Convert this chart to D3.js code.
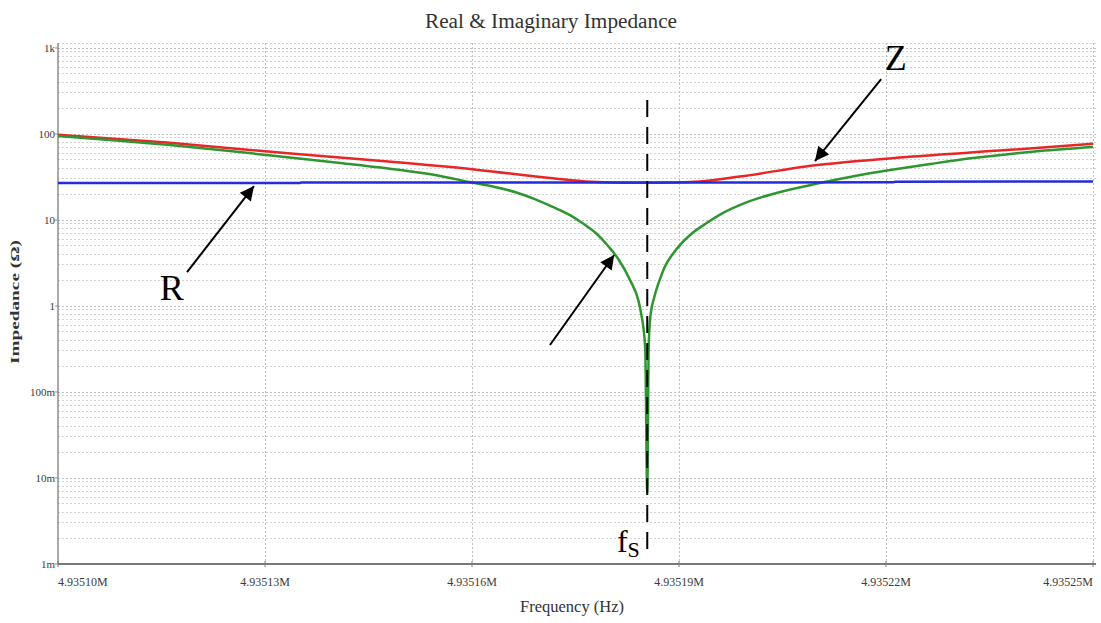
<!DOCTYPE html>
<html>
<head>
<meta charset="utf-8">
<style>
body{
  margin: 0;
  background-color: white;
}
svg{
  display: block;
  font-family: "Liberation Serif", "DejaVu Serif", serif;
}
.grid line{
  stroke: #d2d2d2;
  stroke-width: 1px;
  stroke-dasharray: 2,2;
  shape-rendering: crispEdges;
}
.grid line.major{
  stroke: #c0c0c0;
}
.tick-label{
  font-size: 11px;
  fill: #3a3a3a;
}
.trace{
  fill: none;
  stroke-width: 2.5px;
  stroke-linejoin: round;
}
.annot{
  fill: black;
}
</style>
</head>
<body>
<script src="https://cdn.jsdelivr.net/npm/d3@7/dist/d3.min.js"></script>
<script>
  var WIDTH = 1101;
  var HEIGHT = 623;

  // axis ticks
  var xTicks = [4935100, 4935130, 4935160, 4935190, 4935220, 4935250];
  var xTickLabels = ["4.93510M", "4.93513M", "4.93516M", "4.93519M", "4.93522M", "4.93525M"];
  var yTicks = [1e-3, 1e-2, 1e-1, 1, 10, 100, 1000];
  var yTickLabels = ["1m", "10m", "100m", "1", "10", "100", "1k"];

  // |Z| (red)
  var freqZ = [4935100.0, 4935116.2, 4935132.9, 4935149.6, 4935160.6, 4935171.7, 4935177.2, 4935181.7,
               4935185.4, 4935189.1, 4935193.0, 4935198.8, 4935209.4, 4935223.0, 4935237.5, 4935250.0];
  var valZ  = [98, 79, 60, 46.5, 38.5, 30.5, 27.8, 27.2,
               27.1, 27.3, 28.0, 32, 43, 54, 65, 77];

  // |X| (green)
  var freqX = [4935100.0, 4935107.5, 4935116.2, 4935124.9, 4935132.9, 4935140.9, 4935149.6, 4935155.4,
               4935159.6, 4935163.3, 4935166.2, 4935169.1, 4935171.7, 4935174.2, 4935176.2, 4935178.1,
               4935179.6, 4935181.2, 4935182.9, 4935184.1, 4935184.5, 4935185.1, 4935185.4, 4935185.6,
               4935185.8, 4935186.5, 4935187.2, 4935188.0, 4935189.1, 4935191.6, 4935193.8, 4935196.4,
               4935199.6, 4935203.6, 4935210.4, 4935215.5, 4935220.6, 4935226.4, 4935232.6, 4935238.0,
               4935242.3, 4935250.0];
  var valX  = [94.8, 85.2, 74.5, 63.4, 54.0, 46.0, 38.1, 32.5,
               27.7, 24.2, 21.2, 17.5, 14.2, 11.4, 8.98, 6.87,
               5.12, 3.52, 2.01, 1.17, 0.83, 0.33, 0.0067, 0.31,
               0.69, 1.34, 2.01, 2.92, 4.02, 6.69, 8.98, 12.1,
               15.8, 20.1, 26.9, 32.5, 38.1, 44.8, 52.6, 58.5,
               63.4, 70.6];

  // R (blue)
  var freqR = [4935100.0, 4935135.0, 4935135.3, 4935221.0, 4935221.3, 4935250.0];
  var valR  = [26.9, 26.9, 27.3, 27.4, 27.9, 28.0];

  var fSeries = 4935185.4;

  var xScale = d3.scaleLinear()
    .domain([4935100, 4935250])
    .range([58, 1093]);

  var yScale = d3.scaleLog()
    .domain([1e-3, 1e3])
    .range([564, 48]);

  var PLOT_LEFT = 58, PLOT_RIGHT = 1096, PLOT_TOP = 43, PLOT_BOTTOM = 564;

  var svg = d3.select("body").append("svg")
    .attr("width", WIDTH)
    .attr("height", HEIGHT);

  var defs = svg.append("defs");
  defs.append("clipPath").attr("id", "plot-clip")
    .append("rect")
      .attr("x", PLOT_LEFT).attr("y", PLOT_TOP)
      .attr("width", PLOT_RIGHT - PLOT_LEFT).attr("height", PLOT_BOTTOM - PLOT_TOP);

  defs.append("marker")
    .attr("id", "arrowhead")
    .attr("viewBox", "0 0 10 10")
    .attr("refX", 10).attr("refY", 5)
    .attr("markerWidth", 9).attr("markerHeight", 7)
    .attr("markerUnits", "strokeWidth")
    .attr("orient", "auto")
    .append("path")
      .attr("d", "M0,0 L10,5 L0,10 z")
      .attr("fill", "black");

  var gridArea = svg.append("g").attr("class", "grid");
  var axisArea = svg.append("g").attr("class", "axes");
  var plotArea = svg.append("g").attr("class", "plotArea").attr("clip-path", "url(#plot-clip)");
  var annotArea = svg.append("g").attr("class", "annotations");

  initGrid();
  initAxes();
  renderTraces();
  renderAnnotations();

  function initGrid(){
    var hLines = [];
    for (var k = -3; k < 3; k++){
      for (var m = 1; m <= 9; m++){
        hLines.push({v: m * Math.pow(10, k), major: m == 1});
      }
    }
    hLines.push({v: 1000, major: true});

    gridArea.selectAll("line.h")
      .data(hLines)
      .enter()
      .append("line")
        .attr("class", (d) => d.major ? "h major" : "h")
        .attr("x1", PLOT_LEFT).attr("x2", PLOT_RIGHT)
        .attr("y1", (d) => yScale(d.v)).attr("y2", (d) => yScale(d.v));

    gridArea.append("line")
      .attr("x1", PLOT_LEFT).attr("x2", PLOT_RIGHT)
      .attr("y1", PLOT_TOP).attr("y2", PLOT_TOP);

    gridArea.selectAll("line.v")
      .data(xTicks.slice(1))
      .enter()
      .append("line")
        .attr("class", "v major")
        .attr("x1", (d) => xScale(d)).attr("x2", (d) => xScale(d))
        .attr("y1", PLOT_TOP).attr("y2", PLOT_BOTTOM);
  }

  function initAxes(){
    // left axis
    axisArea.append("line")
      .attr("x1", PLOT_LEFT).attr("x2", PLOT_LEFT)
      .attr("y1", PLOT_TOP).attr("y2", PLOT_BOTTOM)
      .attr("stroke", "#8c8c8c").attr("stroke-width", 1.5);

    // bottom axis
    axisArea.append("line")
      .attr("x1", PLOT_LEFT).attr("x2", PLOT_RIGHT)
      .attr("y1", PLOT_BOTTOM).attr("y2", PLOT_BOTTOM)
      .attr("stroke", "#7a7a7a").attr("stroke-width", 2);

    axisArea.selectAll("line.ytick")
      .data(yTicks)
      .enter()
      .append("line")
        .attr("class", "ytick")
        .attr("x1", PLOT_LEFT - 3).attr("x2", PLOT_LEFT)
        .attr("y1", (d) => yScale(d)).attr("y2", (d) => yScale(d))
        .attr("stroke", "#8c8c8c");

    axisArea.selectAll("text.ylab")
      .data(yTicks)
      .enter()
      .append("text")
        .attr("class", "tick-label ylab")
        .attr("x", PLOT_LEFT - 3)
        .attr("y", (d) => yScale(d) + 4)
        .attr("text-anchor", "end")
        .text((d, i) => yTickLabels[i]);

    axisArea.selectAll("line.xtick")
      .data(xTicks)
      .enter()
      .append("line")
        .attr("class", "xtick")
        .attr("x1", (d) => xScale(d)).attr("x2", (d) => xScale(d))
        .attr("y1", PLOT_BOTTOM - 3).attr("y2", PLOT_BOTTOM + 3)
        .attr("stroke", "#7a7a7a");

    axisArea.selectAll("text.xlab")
      .data(xTicks)
      .enter()
      .append("text")
        .attr("class", "tick-label xlab")
        .attr("x", (d) => xScale(d))
        .attr("y", PLOT_BOTTOM + 22)
        .attr("text-anchor", (d, i) => i == 0 ? "start" : (i == xTicks.length - 1 ? "end" : "middle"))
        .style("font-size", "12px")
        .text((d, i) => xTickLabels[i]);

    svg.append("text")
      .attr("x", 551).attr("y", 28)
      .attr("text-anchor", "middle")
      .attr("textLength", 252)
      .attr("lengthAdjust", "spacingAndGlyphs")
      .style("font-size", "20px")
      .style("fill", "#333")
      .text("Real & Imaginary Impedance");

    svg.append("text")
      .attr("x", 572).attr("y", 612)
      .attr("text-anchor", "middle")
      .attr("textLength", 104)
      .attr("lengthAdjust", "spacingAndGlyphs")
      .style("font-size", "17px")
      .style("fill", "#333")
      .text("Frequency (Hz)");

    svg.append("text")
      .attr("transform", "translate(19,302) rotate(-90)")
      .attr("text-anchor", "middle")
      .attr("textLength", 124)
      .attr("lengthAdjust", "spacingAndGlyphs")
      .style("font-size", "13px")
      .style("font-weight", "bold")
      .style("fill", "#333")
      .text("Impedance (Ω)");
  }

  function renderTraces(){
    var valueline = d3.line()
      .x((d) => xScale(d[0]))
      .y((d) => yScale(d[1]))
      .curve(d3.curveMonotoneX);

    var traces = [
      {f: freqZ, v: valZ, color: "rgb(232,38,40)"},
      {f: freqX, v: valX, color: "rgb(46,150,48)"},
      {f: freqR, v: valR, color: "rgb(34,44,222)"}
    ];

    plotArea.selectAll("path.trace")
      .data(traces)
      .enter()
      .append("path")
        .attr("class", "trace")
        .attr("stroke", (d) => d.color)
        .attr("d", (d) => valueline(d.f.map((f, i) => [f, d.v[i]])));
  }

  function renderAnnotations(){
    // series-resonance marker
    annotArea.append("line")
      .attr("x1", xScale(fSeries)).attr("x2", xScale(fSeries))
      .attr("y1", yScale(248)).attr("y2", yScale(0.00134))
      .attr("stroke", "black")
      .attr("stroke-width", 2)
      .attr("stroke-dasharray", "17,10");

    var fsLabel = annotArea.append("text")
      .attr("class", "annot")
      .attr("x", xScale(4935181.0))
      .attr("y", yScale(0.00138));
    fsLabel.append("tspan").style("font-size", "32px").text("f");
    fsLabel.append("tspan").style("font-size", "22px").attr("dy", 5).text("S");

    var arrows = [
      {from: [4935219.3, 436], to: [4935209.7, 48.5]},
      {from: [4935118.7, 2.48], to: [4935128.4, 24.8]},
      {from: [4935171.3, 0.352], to: [4935180.6, 3.92]}
    ];

    annotArea.selectAll("line.arrow")
      .data(arrows)
      .enter()
      .append("line")
        .attr("class", "arrow")
        .attr("x1", (d) => xScale(d.from[0])).attr("y1", (d) => yScale(d.from[1]))
        .attr("x2", (d) => xScale(d.to[0])).attr("y2", (d) => yScale(d.to[1]))
        .attr("stroke", "black")
        .attr("stroke-width", 2)
        .attr("marker-end", "url(#arrowhead)");

    var labels = [
      {text: "Z", at: [4935221.4, 555]},
      {text: "R", at: [4935116.5, 1.17]}
    ];

    annotArea.selectAll("text.big")
      .data(labels)
      .enter()
      .append("text")
        .attr("class", "annot big")
        .attr("x", (d) => xScale(d.at[0]))
        .attr("y", (d) => yScale(d.at[1]))
        .attr("text-anchor", "middle")
        .style("font-size", "36px")
        .text((d) => d.text);
  }
</script>
</body>
</html>
